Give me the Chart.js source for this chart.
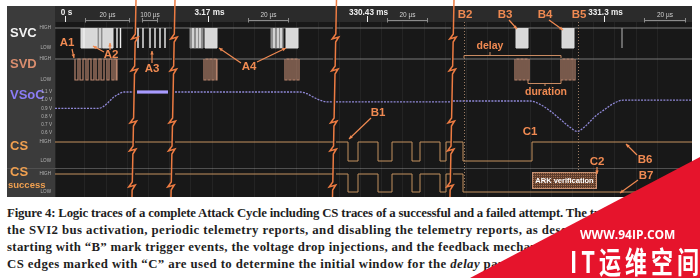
<!DOCTYPE html>
<html><head><meta charset="utf-8">
<script src="https://cdn.jsdelivr.net/npm/chart.js@4.4.1/dist/chart.umd.min.js"></script>
<style>
html,body{margin:0;padding:0;background:#fff;}
body{width:700px;height:278px;overflow:hidden;position:relative;}
#wrap{position:absolute;left:0;top:0;width:700px;height:200px;}
#cap{position:absolute;left:7px;top:205px;font-family:"Liberation Serif","DejaVu Serif",serif;font-weight:bold;font-size:12.8px;line-height:17px;color:#1e1e1e;white-space:nowrap;}
#wm{position:absolute;left:0;top:0;width:700px;height:278px;background:#e6142c;clip-path:polygon(700px 157px,700px 278px,470px 278px);}
#wm1{position:absolute;left:580px;top:226px;color:#fff;font:bold 12px "Open Sans",sans-serif;}
#wm2{position:absolute;left:570px;top:245px;color:#fff;font:bold 22px "Noto Sans CJK SC",sans-serif;line-height:22px;letter-spacing:4px;transform:scaleY(1.35);transform-origin:0 0;white-space:nowrap;}
</style></head><body>
<div id="wrap"><canvas id="c" width="700" height="200"></canvas></div>
<div id="cap">
<div data-to="563"><span>Figure 4: Logic traces of a complete Attack Cycle including CS traces of a successful and a failed attempt.</span> The traces marked with “A” show</div>
<div data-to="577"><span>the SVI2 bus activation, periodic telemetry reports, and disabling the telemetry reports, as descri</span>bed in Section 4. The traces</div>
<div data-to="547"><span>starting with “B” mark trigger events, the voltage drop injections, and the feedback mechanis</span>m via the CS signal.</div>
<div data-to="528"><span>CS edges marked with “C” are used to determine the initial window for the <i>delay</i> parame</span>ter.</div>
</div>
<div id="wm"></div><div id="wm1">WWW.94IP.COM</div><div id="wm2">IT运维空间</div>
<script>
// ---------- DATA (x = position on the compressed time axis) ----------
const windowFrom = [55, 135, 175, 336, 453];
const windowTo   = [133, 172, 333, 451, 692];
const breakAt    = [134, 173, 334.5, 452];

const timeMarkLabels = ['0 s', '3.17 ms', '330.43 ms', '331.3 ms'];
const timeMarkAt     = [65, 208, 367, 604];
const spanLabels = ['20 µs', '100 µs', '20 µs', '20 µs', '20 µs'];
const spanFrom   = [85, 142, 248, 387, 644];
const spanTo     = [130, 158, 289, 428, 686];

// SVC: intervals with dense LOW activity
const svcDenseBlocks = [[81,97],[103,113],[205,217],[286,298],[516,528],[562,574]];
const svcMixedBlocks = [[97,103],[190,203],[271,283]];
const svcPulses      = [84,100,117,120.5,138,143,150,155,160,165,193,197,200,274,278,281];
const svcFaintPulses = [622];

// SVD: toggle instants of each burst
const svdBursts = [
  [75,78,80,83,86,88,91,94,96,99,101,104,107,109,112,114,116,117],
  [204,206,208,210,212,214,216,217],
  [285,287,289,291,293,295,297,299],
  [515,517,519,521,523,525,527,529],
  [561,563,565,567,569,571,573,575]
];

// VSoC in volts
const vsocW1 = [[55,0.90],[98,0.90],[103,0.92],[108,0.97],[113,1.03],[118,1.07],[124,1.10],[133,1.10]];
const vsocW2 = [[137,1.10],[168,1.10]];
const vsocW3 = [[175,1.10],[300,1.10],[307,1.08],[313,1.04],[320,1.00],[327,0.98],[333,0.98]];
const vsocW4 = [[336,0.98],[451,0.98]];
const vsocW5 = [[453,0.99],[530,0.99],[540,0.95],[550,0.87],[560,0.77],[570,0.67],[577,0.62],[585,0.68],[595,0.80],[605,0.89],[615,0.97],[623,1.00],[692,1.00]];
const vsocTicks = [1.1, 1.0, 0.9, 0.8, 0.7, 0.6];

// CS levels: [x, level] (level holds from x on)
const csLevels = [
  [[55,1],[133,1]],
  [[135,1],[172,1]],
  [[175,1],[333,1]],
  [[336,1],[348,0],[358,1],[378,0],[392,1],[412,0],[420,1],[440,0],[446,1],[451,1]],
  [[453,1],[463,0],[532,1],[692,1]]
];
const csSuccessLevels = [
  [[55,1],[133,1]],
  [[135,1],[172,1]],
  [[175,1],[333,1]],
  [[336,1],[348,0],[358,1],[378,0],[392,1],[412,0],[420,1],[440,0],[446,1],[451,1]],
  [[453,1],[463,0],[692,0]]
];
const triggerAt = [464, 578];
const arkWindow = [532, 597];

const laneNames = ['SVC', 'SVD', 'VSoC', 'CS', 'CS'];

// ---------- builders ----------
const AREA_TOP = 22, AREA_BOTTOM = 197;
function laneAxis(v1, p1, v2, p2) {
  const u = (v1 - v2) / (p2 - p1);
  return { type: 'linear', axis: 'y', display: false, min: v1 - (AREA_BOTTOM - p1) * u, max: v1 + (p1 - AREA_TOP) * u };
}
function blockPoints(blocks) {
  const out = [];
  blocks.forEach(([a, b]) => out.push({x:a,y:1},{x:a,y:0},{x:b,y:1},{x:b,y:null}));
  return out;
}
function pulsePoints(xs) {
  const out = [];
  xs.slice().sort((a,b)=>a-b).forEach(x => out.push({x,y:1},{x,y:0},{x,y:null}));
  return out;
}
function burstPoints(bursts) {
  const out = [];
  bursts.forEach(e => {
    out.push({x:e[0], y:1});
    e.forEach((x, i) => out.push({x, y: i % 2 === 0 ? 0 : 1}));
    out.push({x:e[e.length-1], y:null});
  });
  return out;
}
function levelPoints(wins) {
  const out = [];
  wins.forEach((w, i) => { if (i) out.push({x:w[0][0], y:null}); w.forEach(([x,y]) => out.push({x,y})); });
  return out;
}
const idleWins = windowFrom.map((f, i) => [[f,1],[windowTo[i],1]]);

const base = {type:'line', pointRadius:0, borderWidth:1, spanGaps:false, fill:false};
const datasets = [
  {...base, label:'SVC idle', data:levelPoints(idleWins), yAxisID:'svc', borderColor:'#7c7c7c', order:20},
  {...base, label:'SVC mixed', data:blockPoints(svcMixedBlocks), yAxisID:'svc', stepped:'before', borderColor:'#8e8e8e', backgroundColor:'#8e8e8e', fill:{value:1}, order:12},
  {...base, label:'SVC dense', data:blockPoints(svcDenseBlocks), yAxisID:'svc', stepped:'before', borderColor:'#dedede', backgroundColor:'#d8d8d8', fill:{value:1}, order:11},
  {...base, label:'SVC pulses', data:pulsePoints(svcPulses), yAxisID:'svc', borderColor:'#eeeeee', borderWidth:1.4, order:10},
  {...base, label:'SVC faint', data:pulsePoints(svcFaintPulses), yAxisID:'svc', borderColor:'#8a8a8a', borderWidth:1.4, order:10},
  {...base, label:'SVD idle', data:levelPoints(idleWins), yAxisID:'svd', borderColor:'#787878', order:20},
  {...base, label:'SVD', data:burstPoints(svdBursts), yAxisID:'svd', stepped:'before', borderColor:'#b9866f', borderWidth:1.2, order:9},
  {...base, label:'VSoC', data:levelPoints([vsocW1, vsocW3, vsocW4, vsocW5]), yAxisID:'vsoc', borderColor:'#8f88d6', borderWidth:1.3, borderDash:[2,1.2], cubicInterpolationMode:'monotone', order:8},
  {...base, label:'VSoC burst', data:levelPoints([vsocW2]), yAxisID:'vsoc', borderColor:'#a89bff', borderWidth:3.2, order:8},
  {...base, label:'CS', data:levelPoints(csLevels), yAxisID:'cs', stepped:'before', borderColor:'#c3915f', order:7},
  {...base, label:'CS success', data:levelPoints(csSuccessLevels), yAxisID:'css', stepped:'before', borderColor:'#c3915f', order:7}
];

// ---------- annotation layout (overlay units) ----------
const ORANGE = '#f08a52';
const marks = [
  {t:'A1', at:[67,43], arrows:[[[72,49],[74,58]]]},
  {t:'A2', at:[111,55], arrows:[[[104,52],[93,46]],[[110,50],[110,43]]]},
  {t:'A3', at:[152,69], arrows:[[[152,63],[152,51]]]},
  {t:'A4', at:[249,67], arrows:[[[241,63],[219,48]],[[257,62],[286,48]]]},
  {t:'B1', at:[378,113], arrows:[[[371,118],[349,139]]]},
  {t:'B2', at:[465,15], arrows:[]},
  {t:'B3', at:[505,15], arrows:[[[509,20],[517,29]]]},
  {t:'B4', at:[545,15], arrows:[[[549,20],[563,30]]]},
  {t:'B5', at:[579,15], arrows:[]},
  {t:'B6', at:[645,160], arrows:[[[637,155],[626,144]]]},
  {t:'B7', at:[646,176], arrows:[[[638,180],[620,193]]]},
  {t:'C1', at:[530,132], arrows:[]},
  {t:'C2', at:[597,162], arrows:[[[597,167],[597,174]]]}
];

function arrow(ctx, x1, y1, x2, y2) {
  ctx.beginPath(); ctx.moveTo(x1, y1); ctx.lineTo(x2, y2); ctx.stroke();
  const ang = Math.atan2(y2 - y1, x2 - x1), L = 4;
  ctx.beginPath(); ctx.moveTo(x2, y2);
  ctx.lineTo(x2 - L*Math.cos(ang-0.45), y2 - L*Math.sin(ang-0.45));
  ctx.lineTo(x2 - L*Math.cos(ang+0.45), y2 - L*Math.sin(ang+0.45));
  ctx.closePath(); ctx.fill();
}

const deco = {
  id: 'deco',
  beforeDraw(chart) {
    const {ctx, chartArea:a} = chart;
    const ov = chart.scales.ov;
    ctx.save();
    ctx.fillStyle = '#181818'; ctx.fillRect(7, 6, a.right - 7, a.bottom - 6);
    ctx.fillStyle = '#2b2b2b'; ctx.fillRect(a.left, 6, a.right - a.left, a.top - 6);
    ctx.fillStyle = '#3b3b3b'; ctx.fillRect(7, 6, a.left - 7, a.bottom - 6);
    ctx.strokeStyle = '#505050'; ctx.lineWidth = 1;
    const ys = Math.round(ov.getPixelForValue(168)) + 0.5;
    ctx.beginPath(); ctx.moveTo(7, ys); ctx.lineTo(a.right, ys); ctx.stroke();
    ctx.restore();
  },
  afterDatasetsDraw(chart) {
    const {ctx, chartArea:a, scales} = chart;
    const X = v => scales.x.getPixelForValue(v), O = v => scales.ov.getPixelForValue(v);
    ctx.save();
    // trigger dotted lines
    ctx.strokeStyle = '#9c7c64'; ctx.setLineDash([1,2]); ctx.lineWidth = 1;
    triggerAt.forEach(t => { const x = Math.round(X(t)) + 0.5; ctx.beginPath(); ctx.moveTo(x, O(22)); ctx.lineTo(x, O(190)); ctx.stroke(); });
    ctx.setLineDash([]);
    // ARK verification box
    const x0 = X(arkWindow[0]), x1 = X(arkWindow[1]), y0 = O(172), y1 = O(189);
    ctx.fillStyle = '#5e3d2c'; ctx.fillRect(x0, y0, x1 - x0, y1 - y0);
    ctx.fillStyle = '#a5704f';
    for (let yy = y0 + 1; yy < y1; yy += 2) for (let xx = x0 + ((yy - y0) % 4 ? 1 : 0); xx < x1; xx += 2) ctx.fillRect(xx, yy, 1, 1);
    ctx.strokeStyle = '#c89274'; ctx.strokeRect(x0 + 0.5, y0 + 0.5, x1 - x0 - 1, y1 - y0 - 1);
    ctx.fillStyle = '#ffffff'; ctx.font = 'bold 7.5px "Liberation Sans", Arial'; ctx.textAlign = 'center'; ctx.textBaseline = 'middle';
    ctx.fillText('ARK verification', (x0 + x1) / 2, (y0 + y1) / 2 + 0.5);
    // header: time marks and span brackets
    ctx.fillStyle = '#f0f0f0'; ctx.strokeStyle = '#f0f0f0'; ctx.font = 'bold 8.2px "Liberation Sans", Arial';
    timeMarkLabels.forEach((t, i) => {
      const x = Math.round(X(timeMarkAt[i])) + 0.5;
      ctx.fillText(t, x + 1, O(12.5));
      ctx.beginPath(); ctx.moveTo(x, O(16)); ctx.lineTo(x, O(22)); ctx.stroke();
    });
    ctx.font = '6.5px "Liberation Sans", Arial'; ctx.fillStyle = '#d0d0d0'; ctx.strokeStyle = '#8c8c8c';
    spanLabels.forEach((t, i) => {
      const xa = X(spanFrom[i]), xb = X(spanTo[i]), y = Math.round(O(20)) + 0.5;
      ctx.beginPath(); ctx.moveTo(xa, y); ctx.lineTo(xb, y);
      ctx.moveTo(xa + 0.5, O(18)); ctx.lineTo(xa + 0.5, O(22.5));
      ctx.moveTo(xb - 0.5, O(18)); ctx.lineTo(xb - 0.5, O(22.5)); ctx.stroke();
      ctx.fillText(t, (xa + xb) / 2, O(15));
    });
    // lane names
    ctx.textAlign = 'left';
    const laneY = [33, 64, 95, 146, 172];
    const laneCol = ['#f2f2f2', '#d98d6e', '#8b7cf6', '#f0a050', '#f0a050'];
    ctx.font = 'bold 13px "Liberation Sans", Arial';
    laneNames.forEach((n, i) => { ctx.fillStyle = laneCol[i]; ctx.fillText(n, 10, O(laneY[i])); });
    ctx.font = 'bold 9.5px "Liberation Sans", Arial'; ctx.fillStyle = '#f0a050';
    ctx.fillText('success', 8, O(185));
    // level labels
    ctx.textAlign = 'right'; ctx.font = '4.6px "Liberation Sans", Arial'; ctx.fillStyle = '#b4b4b4';
    ['svc','svd','cs','css'].forEach(id => {
      ctx.fillText('HIGH', a.left - 4, scales[id].getPixelForValue(1));
      ctx.fillText('LOW', a.left - 4, scales[id].getPixelForValue(0));
    });
    vsocTicks.forEach(v => ctx.fillText(v.toFixed(1) + ' V', a.left - 3, scales.vsoc.getPixelForValue(v)));
    // brackets for delay / duration
    ctx.strokeStyle = '#c98b62'; ctx.lineWidth = 1;
    let y = Math.round(O(55)) + 0.5;
    ctx.beginPath(); ctx.moveTo(X(464), O(58)); ctx.lineTo(X(464), y); ctx.lineTo(X(561), y); ctx.lineTo(X(561), O(58));
    ctx.moveTo(X(490), y); ctx.lineTo(X(490), O(52)); ctx.stroke();
    y = Math.round(O(83)) + 0.5;
    ctx.beginPath(); ctx.moveTo(X(528), O(80)); ctx.lineTo(X(528), y); ctx.lineTo(X(561), y); ctx.lineTo(X(561), O(80));
    ctx.moveTo(X(545), y); ctx.lineTo(X(545), O(86)); ctx.stroke();
    ctx.fillStyle = ORANGE; ctx.textAlign = 'center'; ctx.font = 'bold 10.5px "Liberation Sans", Arial';
    ctx.fillText('delay', X(490), O(46));
    ctx.fillText('duration', X(546), O(92));
    // marks
    ctx.font = 'bold 11.5px "Liberation Sans", Arial'; ctx.strokeStyle = ORANGE; ctx.lineWidth = 1.2;
    marks.forEach(m => {
      ctx.fillStyle = ORANGE;
      ctx.fillText(m.t, X(m.at[0]), O(m.at[1]));
      m.arrows.forEach(([p, q]) => arrow(ctx, X(p[0]), O(p[1]), X(q[0]), O(q[1])));
    });
    ctx.restore();
  },
  afterDraw(chart) {
    const {ctx, scales} = chart;
    const X = v => scales.x.getPixelForValue(v), O = v => scales.ov.getPixelForValue(v);
    const zig = [38, 70, 122, 150, 186];
    ctx.save();
    ctx.strokeStyle = '#ec7b42'; ctx.lineWidth = 1.5; ctx.lineJoin = 'miter';
    breakAt.forEach(b => {
      const top = 0, bot = O(197);
      const xc = y => X(b) + 2 - 4 * (y - top) / (bot - top);
      ctx.beginPath(); ctx.moveTo(xc(top), top);
      zig.forEach(z => {
        const yz = O(z);
        ctx.lineTo(xc(yz - 4), yz - 4);
        ctx.lineTo(xc(yz) - 3.5, yz + 1);
        ctx.lineTo(xc(yz) + 3, yz - 1);
        ctx.lineTo(xc(yz + 4), yz + 4);
      });
      ctx.lineTo(xc(bot), bot);
      ctx.stroke();
    });
    ctx.restore();
  }
};

new Chart(document.getElementById('c'), {
  type: 'line',
  data: { datasets },
  options: {
    responsive: false, animation: false, events: [],
    layout: { padding: { left: 55, top: AREA_TOP, right: 8, bottom: 200 - AREA_BOTTOM } },
    plugins: { legend: { display: false }, tooltip: { enabled: false } },
    scales: {
      x: { type: 'linear', min: 55, max: 692, display: true,
           ticks: { display: false, stepSize: 21.2 },
           grid: { color: 'rgba(255,255,255,0.055)', drawTicks: false },
           border: { display: false },
           afterFit(s) { s.height = 0; } },
      svc: laneAxis(1, 28, 0, 48),
      svd: laneAxis(1, 59, 0, 80),
      vsoc: laneAxis(1.1, 92, 0.6, 133),
      cs: laneAxis(1, 142, 0, 161),
      css: laneAxis(1, 174, 0, 192),
      ov: { type: 'linear', axis: 'y', display: false, reverse: true, min: AREA_TOP, max: AREA_BOTTOM }
    }
  },
  plugins: [deco]
});

// caption lines: spread the difference to the original line lengths over the letters
function fitCaption() {
  document.querySelectorAll('#cap > div').forEach(d => {
    d.style.letterSpacing = '0px';
    const s = d.querySelector('span');
    const right = s.getBoundingClientRect().right;
    const n = s.textContent.length;
    d.style.letterSpacing = ((+d.dataset.to - right) / n).toFixed(3) + 'px';
  });
}
fitCaption();
if (document.fonts && document.fonts.ready) document.fonts.ready.then(fitCaption);
</script>
</body></html>
